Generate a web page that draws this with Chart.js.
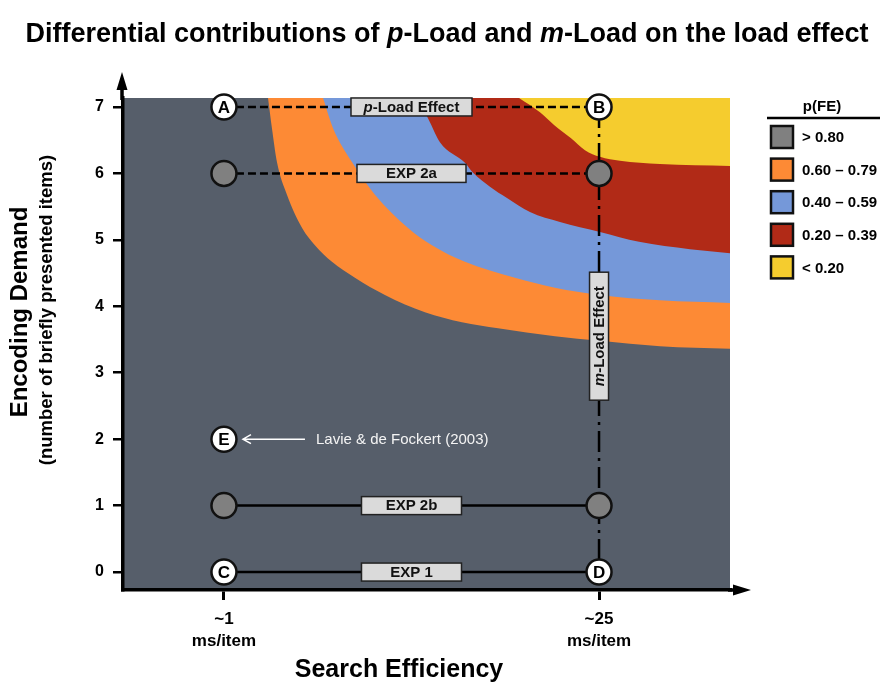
<!DOCTYPE html>
<html lang="en">
<head>
    <meta charset="UTF-8">
    <title>Differential contributions of p-Load and m-Load on the load effect</title>
    <script src="https://cdn.jsdelivr.net/npm/chart.js"></script>
    <style>
        body {
            margin: 0;
            background: #fff;
        }

        .wrap {
            width: 892px;
            height: 695px;
            position: relative;
        }
    </style>
</head>
<body>
    <div class="wrap"><canvas id="loadChart"></canvas></div>

    <script>
        // band boundaries: x = search slope (ms/item), y = encoding demand (items)
        const grayOrangeX = [3.82, 4.07, 4.39, 5.03, 6.00, 6.82, 7.91, 9.38, 11.30, 13.86, 16.23, 18.54, 22.18, 25.06, 28.90, 33.38];
        const grayOrangeY = [7.135, 6.68, 6.17, 5.68, 5.18, 4.92, 4.67, 4.43, 4.17, 3.91, 3.76, 3.67, 3.55, 3.48, 3.40, 3.36];

        const orangeBlueX = [7.34, 7.98, 9.19, 10.66, 12.78, 14.31, 16.42, 19.62, 22.18, 25.06, 28.90, 33.38];
        const orangeBlueY = [7.135, 6.68, 6.17, 5.68, 5.18, 4.92, 4.67, 4.43, 4.28, 4.17, 4.09, 4.05];

        const blueRedX = [13.42, 14.18, 14.82, 16.42, 16.94, 18.02, 19.11, 20.58, 22.50, 25.06, 27.56, 30.82, 33.38];
        const blueRedY = [7.135, 6.77, 6.47, 6.16, 6.01, 5.80, 5.63, 5.42, 5.27, 5.12, 4.97, 4.86, 4.80];

        const redYellowX = [19.88, 21.22, 22.12, 23.21, 24.10, 25.06, 26.34, 28.90, 33.38];
        const redYellowY = [7.135, 6.92, 6.73, 6.53, 6.35, 6.25, 6.19, 6.14, 6.11];

        // conditions
        const slopes = [1, 25];
        const pLoadRow = 7;
        const exp2aRow = 6;
        const exp2bRow = 1;
        const exp1Row = 0;
        const openX = [1, 25, 1, 1, 25];
        const openY = [7, 7, 2, 0, 0];
        const openLetters = ['A', 'B', 'E', 'C', 'D'];
        const filledX = [1, 25, 1, 25];
        const filledY = [6, 6, 1, 1];
        const mLoadMid = 3.55;

        // axes
        const yTickValues = [0, 1, 2, 3, 4, 5, 6, 7];
        const xTickValues = [1, 25];
        const xTickLabels = [['~1', 'ms/item'], ['~25', 'ms/item']];
        const xMin = -5.46, xMax = 33.38, yMin = -0.27, yMax = 7.135;

        // legend
        const legendLabels = ['> 0.80', '0.60 \u2013 0.79', '0.40 \u2013 0.59', '0.20 \u2013 0.39', '< 0.20'];

        const FONT = '"Liberation Sans", Arial, sans-serif';
        const colors = {
            gray: '#565e6a',
            orange: '#fd8a35',
            blue: '#7598d9',
            red: '#b12a17',
            yellow: '#f5cc2e'
        };
        const legendColors = ['#808080', colors.orange, colors.blue, colors.red, colors.yellow];

        function pts(xs, ys) {
            return xs.map((x, i) => ({ x: x, y: ys[i] }));
        }

        function band(data, color, order) {
            return {
                data: data,
                fill: 'end',
                backgroundColor: color,
                borderColor: 'transparent',
                borderWidth: 0,
                pointRadius: 0,
                cubicInterpolationMode: 'monotone',
                order: order
            };
        }

        function guide(data, dash) {
            return {
                data: data,
                fill: false,
                borderColor: '#000',
                borderWidth: 2.5,
                borderDash: dash,
                pointRadius: 0,
                clip: false,
                order: 2
            };
        }

        // draw a run of text parts (some italic) centred on cx
        function richText(ctx, parts, cx, cy, size, baseline) {
            let total = 0;
            parts.forEach(p => {
                ctx.font = (p.it ? 'italic ' : '') + 'bold ' + size + 'px ' + FONT;
                p.w = ctx.measureText(p.t).width;
                total += p.w;
            });
            let x = cx - total / 2;
            ctx.textAlign = 'left';
            ctx.textBaseline = baseline || 'middle';
            parts.forEach(p => {
                ctx.font = (p.it ? 'italic ' : '') + 'bold ' + size + 'px ' + FONT;
                ctx.fillText(p.t, x, cy);
                x += p.w;
            });
        }

        function labelBox(ctx, cx, cy, w, h, parts) {
            ctx.fillStyle = '#dadada';
            ctx.strokeStyle = '#222';
            ctx.lineWidth = 1.5;
            ctx.fillRect(cx - w / 2, cy - h / 2, w, h);
            ctx.strokeRect(cx - w / 2, cy - h / 2, w, h);
            ctx.fillStyle = '#111';
            richText(ctx, parts, cx, cy + 0.5, 15);
        }

        const decor = {
            id: 'decor',
            afterDatasetsDraw(chart) {
                const ctx = chart.ctx;
                const xs = chart.scales.x, ys = chart.scales.y;
                const mid = xs.getPixelForValue((slopes[0] + slopes[1]) / 2);
                ctx.save();

                labelBox(ctx, mid, ys.getPixelForValue(pLoadRow), 121, 18, [{ t: 'p', it: true }, { t: '-Load Effect' }]);
                labelBox(ctx, mid, ys.getPixelForValue(exp2aRow), 109, 18, [{ t: 'EXP 2a' }]);
                labelBox(ctx, mid, ys.getPixelForValue(exp2bRow), 100, 18, [{ t: 'EXP 2b' }]);
                labelBox(ctx, mid, ys.getPixelForValue(exp1Row), 100, 18, [{ t: 'EXP 1' }]);

                // vertical m-Load box
                ctx.save();
                ctx.translate(xs.getPixelForValue(slopes[1]), ys.getPixelForValue(mLoadMid));
                ctx.rotate(-Math.PI / 2);
                labelBox(ctx, 0, 0, 128, 19, [{ t: 'm', it: true }, { t: '-Load Effect' }]);
                ctx.restore();

                // letters in the open circles
                const meta = chart.getDatasetMeta(chart.data.datasets.length - 1);
                ctx.fillStyle = '#000';
                ctx.font = 'bold 17px ' + FONT;
                ctx.textAlign = 'center';
                ctx.textBaseline = 'middle';
                meta.data.forEach((el, i) => {
                    ctx.fillText(openLetters[i], el.x, el.y + 1);
                });

                // Lavie & de Fockert annotation next to E
                const e = meta.data[openLetters.indexOf('E')];
                ctx.strokeStyle = '#fff';
                ctx.lineWidth = 1.5;
                ctx.beginPath();
                ctx.moveTo(e.x + 81, e.y);
                ctx.lineTo(e.x + 19, e.y);
                ctx.moveTo(e.x + 27, e.y - 4.5);
                ctx.lineTo(e.x + 19, e.y);
                ctx.lineTo(e.x + 27, e.y + 4.5);
                ctx.stroke();
                ctx.fillStyle = '#f4f4f4';
                ctx.font = '15px ' + FONT;
                ctx.textAlign = 'left';
                ctx.fillText('Lavie & de Fockert (2003)', e.x + 92, e.y + 1);

                ctx.restore();
            },
            afterDraw(chart) {
                const ctx = chart.ctx;
                const a = chart.chartArea;
                ctx.save();

                // title
                ctx.fillStyle = '#000';
                richText(ctx, [
                    { t: 'Differential contributions of ' },
                    { t: 'p', it: true },
                    { t: '-Load and ' },
                    { t: 'm', it: true },
                    { t: '-Load on the load effect' }
                ], 447, 42, 27, 'alphabetic');

                // axis arrows
                ctx.strokeStyle = '#000';
                ctx.lineWidth = 3.5;
                ctx.beginPath();
                ctx.moveTo(a.left - 1, a.top + 2);
                ctx.lineTo(a.left - 1, a.top - 10);
                ctx.moveTo(a.right - 2, a.bottom);
                ctx.lineTo(a.right + 6, a.bottom);
                ctx.stroke();
                ctx.beginPath();
                ctx.moveTo(a.left - 1, a.top - 26);
                ctx.lineTo(a.left - 6.5, a.top - 8);
                ctx.lineTo(a.left + 4.5, a.top - 8);
                ctx.closePath();
                ctx.moveTo(a.right + 21, a.bottom);
                ctx.lineTo(a.right + 3, a.bottom - 5.5);
                ctx.lineTo(a.right + 3, a.bottom + 5.5);
                ctx.closePath();
                ctx.fillStyle = '#000';
                ctx.fill();

                // axis titles
                ctx.textAlign = 'center';
                ctx.textBaseline = 'middle';
                ctx.font = 'bold 25px ' + FONT;
                ctx.fillText('Search Efficiency', 399, 670);
                ctx.save();
                ctx.translate(20, 312);
                ctx.rotate(-Math.PI / 2);
                ctx.font = 'bold 24px ' + FONT;
                ctx.fillText('Encoding Demand', 0, 0);
                ctx.font = 'bold 18.5px ' + FONT;
                ctx.fillText('(number of briefly presented items)', 2, 27);
                ctx.restore();

                // legend
                ctx.font = 'bold 15px ' + FONT;
                ctx.fillText('p(FE)', 822, 107);
                ctx.lineWidth = 2.5;
                ctx.beginPath();
                ctx.moveTo(767, 118);
                ctx.lineTo(880, 118);
                ctx.stroke();
                ctx.textAlign = 'left';
                legendLabels.forEach((lab, i) => {
                    const y = 137 + i * 32.6;
                    ctx.fillStyle = legendColors[i];
                    ctx.fillRect(771, y - 11, 22, 22);
                    ctx.lineWidth = 2.5;
                    ctx.strokeStyle = '#111';
                    ctx.strokeRect(771, y - 11, 22, 22);
                    ctx.fillStyle = '#000';
                    ctx.fillText(lab, 802, y + 1);
                });

                ctx.restore();
            }
        };

        Chart.defaults.font.family = FONT;

        new Chart(document.getElementById('loadChart'), {
            type: 'line',
            data: {
                datasets: [
                    {
                        data: pts([xMin, xMax], [yMax, yMax]),
                        fill: 'start',
                        backgroundColor: colors.gray,
                        borderColor: 'transparent',
                        borderWidth: 0,
                        pointRadius: 0,
                        order: 10
                    },
                    band(pts(grayOrangeX, grayOrangeY), colors.orange, 9),
                    band(pts(orangeBlueX, orangeBlueY), colors.blue, 8),
                    band(pts(blueRedX, blueRedY), colors.red, 7),
                    band(pts(redYellowX, redYellowY), colors.yellow, 6),
                    guide(pts(slopes, [pLoadRow, pLoadRow]), [8, 4]),
                    guide(pts(slopes, [exp2aRow, exp2aRow]), [8, 4]),
                    guide(pts(slopes, [exp2bRow, exp2bRow]), []),
                    guide(pts(slopes, [exp1Row, exp1Row]), []),
                    guide(pts([slopes[1], slopes[1]], [pLoadRow, exp1Row]), [21, 6, 3, 6]),
                    {
                        data: pts(filledX, filledY),
                        showLine: false,
                        pointRadius: 12.5,
                        pointBackgroundColor: '#808080',
                        pointBorderColor: '#111',
                        pointBorderWidth: 2.5,
                        clip: false,
                        order: 1
                    },
                    {
                        data: pts(openX, openY),
                        showLine: false,
                        pointRadius: 12.5,
                        pointBackgroundColor: '#fff',
                        pointBorderColor: '#111',
                        pointBorderWidth: 2.5,
                        clip: false,
                        order: 0
                    }
                ]
            },
            options: {
                responsive: true,
                maintainAspectRatio: false,
                animation: false,
                events: [],
                layout: {
                    padding: { top: 98, right: 162, left: 0, bottom: 0 }
                },
                plugins: {
                    legend: { display: false },
                    tooltip: { enabled: false }
                },
                scales: {
                    x: {
                        type: 'linear',
                        min: xMin,
                        max: xMax,
                        afterFit(scale) { scale.height = 105; },
                        afterBuildTicks(scale) { scale.ticks = xTickValues.map(v => ({ value: v })); },
                        grid: { drawOnChartArea: false, drawTicks: true, tickLength: 10, color: '#000', lineWidth: 3 },
                        border: { display: true, color: '#000', width: 3.5, z: 1 },
                        ticks: {
                            color: '#000',
                            padding: 9,
                            maxRotation: 0,
                            font: { size: 17, weight: 'bold', lineHeight: 1.25 },
                            callback: (v, i) => xTickLabels[i]
                        }
                    },
                    y: {
                        type: 'linear',
                        min: yMin,
                        max: yMax,
                        afterFit(scale) { scale.width = 123; },
                        afterBuildTicks(scale) { scale.ticks = yTickValues.map(v => ({ value: v })); },
                        grid: { drawOnChartArea: false, drawTicks: true, tickLength: 10, color: '#000', lineWidth: 2.5 },
                        border: { display: true, color: '#000', width: 3.5, z: 1 },
                        ticks: {
                            color: '#000',
                            padding: 9,
                            font: { size: 16, weight: 'bold' },
                            callback: v => String(v)
                        }
                    }
                }
            },
            plugins: [decor]
        });
    </script>
</body>
</html>
